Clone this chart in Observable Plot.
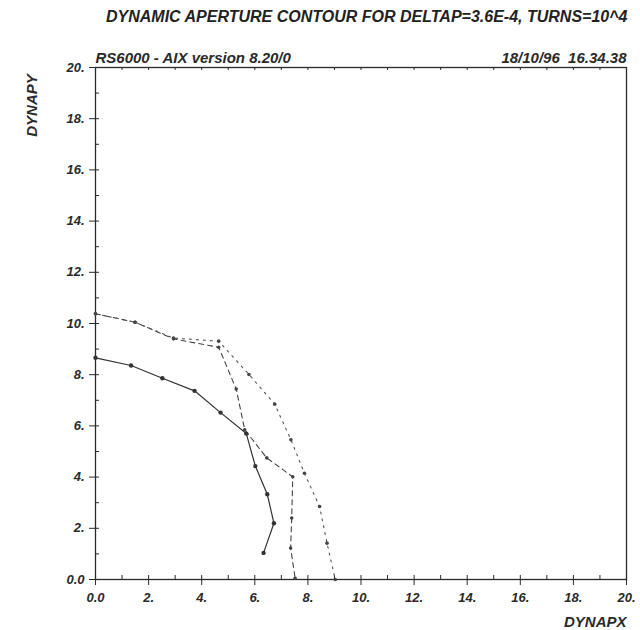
<!DOCTYPE html>
<html>
<head>
<meta charset="utf-8">
<script src="https://cdn.jsdelivr.net/npm/d3@7"></script>
<script src="https://cdn.jsdelivr.net/npm/@observablehq/plot@0.6"></script>
<style>
  body { margin: 0; background: #fff; }
  #title { height: 38px; box-sizing: border-box; padding-top: 8px; padding-left: 106px;
    font-family: "Liberation Sans", sans-serif; font-style: italic; font-weight: bold;
    font-size: 16px; color: #222; white-space: nowrap; }
</style>
</head>
<body>
<div id="title"></div>
<div id="chart"></div>
<script>
// Solid contour
const solidX = [0, 1.34, 2.52, 3.73, 4.71, 5.68, 6.02, 6.47, 6.72, 6.33];
const solidY = [8.66, 8.36, 7.86, 7.37, 6.52, 5.70, 4.43, 3.33, 2.20, 1.04];
// Dotted (outer) contour
const dotX = [0, 1.49, 2.94, 4.64, 5.78, 6.75, 7.36, 7.87, 8.44, 8.72, 9.03];
const dotY = [10.38, 10.05, 9.43, 9.31, 8.01, 6.85, 5.46, 4.15, 2.85, 1.42, 0.0];
// Dashed (inner) contour
const dashX = [0, 1.49, 2.94, 4.64, 5.30, 5.62, 6.45, 7.43, 7.39, 7.35, 7.52];
const dashY = [10.38, 10.05, 9.40, 9.07, 7.44, 5.85, 4.75, 4.01, 2.40, 1.23, 0.05];

const majorTicks = [0, 2, 4, 6, 8, 10, 12, 14, 16, 18, 20];
const minorTicks = d3.range(0, 21, 1);
const titleText = "DYNAMIC APERTURE CONTOUR FOR DELTAP=3.6E-4, TURNS=10^4";
const leftNote = "RS6000 - AIX version 8.20/0";
const rightNote = "18/10/96  16.34.38";
const xLabel = "DYNAPX";
const yLabel = "DYNAPY";

document.getElementById("title").textContent = titleText;

const toRows = (xs, ys) => xs.map((x, i) => ({x, y: ys[i]}));
const solid = toRows(solidX, solidY);
const dotted = toRows(dotX, dotY);
const dashed = toRows(dashX, dashY);

const W = 640, H = 592;
const mL = 95, mR = 14, mT = 29, mB = 51;
const innerW = W - mL - mR, innerH = H - mT - mB;
const fmt = d => d === 0 ? "0.0" : d + ".";
const font = '"Liberation Sans", sans-serif';
const ink = "#2a2a2a";

const chart = Plot.plot({
  width: W, height: H,
  marginLeft: mL, marginRight: mR, marginTop: mT, marginBottom: mB,
  style: {fontFamily: font, fontStyle: "italic", fontWeight: "bold", fontSize: "13px", color: ink, background: "#fff"},
  x: {domain: [0, 20]},
  y: {domain: [0, 20]},
  marks: [
    Plot.frame({stroke: ink, strokeWidth: 1.3}),
    // minor inward ticks (bottom, top, left)
    Plot.tickX(minorTicks, {x: d => d, insetTop: innerH - 4, stroke: ink}),
    Plot.tickX(minorTicks, {x: d => d, insetBottom: innerH - 3, stroke: ink}),
    Plot.tickY(minorTicks, {y: d => d, insetRight: innerW - 4, stroke: ink}),
    Plot.axisX({ticks: majorTicks, tickFormat: fmt, tickSize: 6, tickPadding: 7, label: null, stroke: ink, fill: ink, fontSize: 13}),
    Plot.axisY({ticks: majorTicks, tickFormat: fmt, tickSize: 6, tickPadding: 5, label: null, stroke: ink, fill: ink, fontSize: 13}),
    Plot.line(solid, {x: "x", y: "y", stroke: "#333", strokeWidth: 1.2}),
    Plot.line(dashed, {x: "x", y: "y", stroke: "#444", strokeWidth: 1.1, strokeDasharray: "5,4"}),
    Plot.line(dotted, {x: "x", y: "y", stroke: "#555", strokeWidth: 1.1, strokeDasharray: "2,5"}),
    Plot.dot(solid, {x: "x", y: "y", r: 2.2, fill: "#333"}),
    Plot.dot(dashed, {x: "x", y: "y", r: 1.8, fill: "#444"}),
    Plot.dot(dotted, {x: "x", y: "y", r: 1.8, fill: "#444"}),
    Plot.text([leftNote], {frameAnchor: "top-left", textAnchor: "start", lineAnchor: "bottom", dy: -5, fill: ink, fontSize: 15}),
    Plot.text([rightNote], {frameAnchor: "top-right", textAnchor: "end", lineAnchor: "bottom", dy: -5, fill: ink, fontSize: 15}),
    Plot.text([xLabel], {frameAnchor: "bottom-right", textAnchor: "end", lineAnchor: "bottom", dy: 47, fill: ink, fontSize: 15}),
    Plot.text([yLabel], {frameAnchor: "top-left", textAnchor: "middle", rotate: -90, dx: -69, dy: 38, fill: ink, fontSize: 15})
  ]
});
document.getElementById("chart").appendChild(chart);
</script>
</body>
</html>
